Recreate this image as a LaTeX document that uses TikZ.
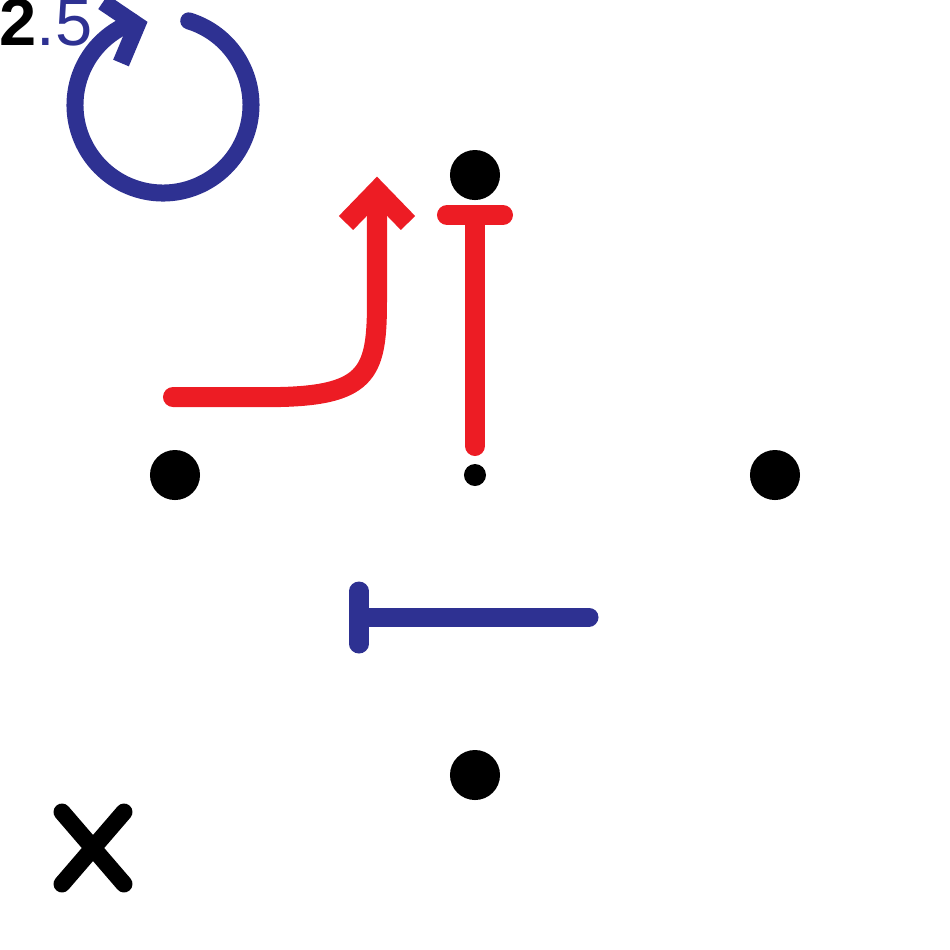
\documentclass[tikz,border=0pt]{standalone}
\usepackage{fontspec}
\setsansfont{Liberation Sans}
\usetikzlibrary{arrows.meta,positioning}
\definecolor{sigred}{HTML}{ED1C24}
\definecolor{sigblue}{HTML}{2E3192}

\begin{document}
\begin{tikzpicture}[
  x=0.01cm, y=-0.01cm,
  dot/.style={circle, fill=black, inner sep=0pt, minimum size=0.5cm},
  smalldot/.style={circle, fill=black, inner sep=0pt, minimum size=0.22cm},
  redline/.style={draw=sigred, line width=0.2cm, line cap=round},
  blueline/.style={draw=sigblue, line width=0.19cm, line cap=round},
  barb/.style={line cap=butt, line join=miter}
]
  \useasboundingbox (0,0) rectangle (950,950);

  % grid points
  \node[dot] (top)    at (475,175) {};
  \node[dot] (left)   at (175,475) {};
  \node[dot] (right)  at (775,475) {};
  \node[dot] (bottom) at (475,775) {};
  \node[smalldot] (mid) at (475,475) {};

  % red inhibition, up from the centre
  \coordinate (inhA) at (475,446);
  \coordinate (inhB) at (475,215);
  \draw[redline] (inhA) -- (inhB);
  \draw[redline] (447,215) -- (503,215);

  % red bent arrow
  \coordinate (bendA) at (173,397);
  \coordinate (bendB) at (377,195);
  \draw[redline] (bendA) -- (280,397) .. controls (370,395) and (377,370) .. (377,300) -- (bendB);
  \draw[redline, barb] (346,223) -- (377,191) -- (408,223);

  % blue bar to the left
  \coordinate (barA) at (589,617);
  \coordinate (barB) at (359,617);
  \draw[blueline] (barA) -- (barB);
  \draw[blueline] (359,591) -- (359,644);

  % rotation mark
  \coordinate (rot) at (163,105);
  \draw[sigblue, line width=0.17cm, line cap=round]
    ([shift={(-73:88)}]rot) arc[start angle=-73, end angle=250, radius=88];
  \draw[sigblue, line width=0.17cm, barb] (103,2) -- (137,25) -- (121,63);
  \node[anchor=base west, inner sep=0pt, font=\sffamily\fontsize{19}{19}\selectfont] (val) at (-1,45)
    {\textbf{2}\textcolor{sigblue}{.5}};

  % cross
  \draw[line width=0.17cm, line cap=round] (62,812) -- (124,884);
  \draw[line width=0.17cm, line cap=round] (124,812) -- (62,884);
\end{tikzpicture}
\end{document}
